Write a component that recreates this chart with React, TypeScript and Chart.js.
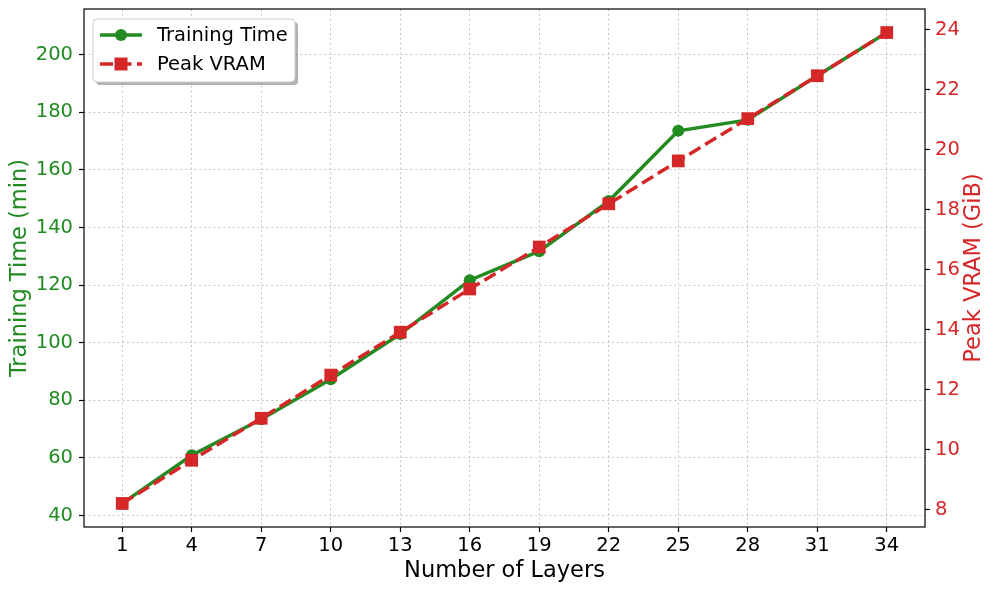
import React, { useEffect, useRef } from 'react';
import { Chart, registerables } from 'chart.js';

Chart.register(...registerables);

const layers = [1, 4, 7, 10, 13, 16, 19, 22, 25, 28, 31, 34];
const trainingTime = [44.2, 60.9, 73.4, 87.3, 103.0, 121.7, 131.8, 149.2, 173.6, 177.4, 192.7, 207.7];
const peakVram = [8.2, 9.64, 11.04, 12.48, 13.91, 15.35, 16.75, 18.19, 19.62, 21.03, 22.46, 23.9];
const leftTicks = [40, 60, 80, 100, 120, 140, 160, 180, 200];
const rightTicks = [8, 10, 12, 14, 16, 18, 20, 22, 24];

const GREEN = '#228B22';
const RED = '#d62728';
const FONT = "'DejaVu Sans', sans-serif";
const TICK_SIZE = 19.5;
const TITLE_SIZE = 22.5;

function roundRect(ctx: CanvasRenderingContext2D, x: number, y: number, w: number, h: number, r: number) {
  ctx.beginPath();
  ctx.moveTo(x + r, y);
  ctx.lineTo(x + w - r, y);
  ctx.quadraticCurveTo(x + w, y, x + w, y + r);
  ctx.lineTo(x + w, y + h - r);
  ctx.quadraticCurveTo(x + w, y + h, x + w - r, y + h);
  ctx.lineTo(x + r, y + h);
  ctx.quadraticCurveTo(x, y + h, x, y + h - r);
  ctx.lineTo(x, y + r);
  ctx.quadraticCurveTo(x, y, x + r, y);
  ctx.closePath();
}

const framePlugin = {
  id: 'frame',
  afterDraw(chart: any) {
    const ctx = chart.ctx as CanvasRenderingContext2D;
    const { left, right, top, bottom } = chart.chartArea;
    ctx.save();
    ctx.strokeStyle = '#000';
    ctx.lineWidth = 1.2;
    ctx.strokeRect(left, top, right - left, bottom - top);

    // right axis title (reads bottom-to-top as in the reference)
    ctx.translate(974, (top + bottom) / 2);
    ctx.rotate(-Math.PI / 2);
    ctx.fillStyle = RED;
    ctx.font = `${TITLE_SIZE}px ${FONT}`;
    ctx.textAlign = 'center';
    ctx.textBaseline = 'middle';
    ctx.fillText('Peak VRAM (GiB)', 0, 0);
    ctx.restore();

    // legend
    const bx = left + 9, by = top + 10, bw = 202, bh = 63;
    ctx.save();
    ctx.fillStyle = 'rgba(0,0,0,0.3)';
    roundRect(ctx, bx + 3, by + 3, bw, bh, 4);
    ctx.fill();
    ctx.fillStyle = '#ffffff';
    roundRect(ctx, bx, by, bw, bh, 4);
    ctx.fill();
    ctx.strokeStyle = '#cccccc';
    ctx.lineWidth = 1;
    ctx.stroke();

    const rows = [by + 16, by + 45];
    chart.data.datasets.forEach((ds: any, i: number) => {
      const ry = rows[i];
      ctx.strokeStyle = ds.borderColor;
      ctx.lineWidth = 3.5;
      ctx.setLineDash(ds.borderDash || []);
      ctx.beginPath();
      ctx.moveTo(bx + 7, ry);
      ctx.lineTo(bx + 49, ry);
      ctx.stroke();
      ctx.setLineDash([]);
      ctx.fillStyle = ds.backgroundColor;
      if (ds.pointStyle === 'rect') {
        ctx.fillRect(bx + 28 - 6.5, ry - 6.5, 13, 13);
      } else {
        ctx.beginPath();
        ctx.arc(bx + 28, ry, 6, 0, Math.PI * 2);
        ctx.fill();
      }
      ctx.fillStyle = '#000';
      ctx.font = `${TICK_SIZE}px ${FONT}`;
      ctx.textBaseline = 'middle';
      ctx.textAlign = 'left';
      ctx.fillText(ds.label, bx + 64, ry + 1);
    });
    ctx.restore();
  },
};

export default function App() {
  const ref = useRef<HTMLCanvasElement>(null);

  useEffect(() => {
    if (!ref.current) return;
    const gridCommon = {
      color: 'rgba(160,160,160,0.6)',
      lineWidth: 1,
      tickBorderDash: [],
      tickColor: '#000',
      tickWidth: 1.2,
      tickLength: 5,
    };
    const borderCommon = { display: false, dash: [2, 2.8] };
    const noPadV = (s: any) => { s.paddingTop = 0; s.paddingBottom = 0; };
    const chart = new Chart(ref.current, {
      type: 'line',
      data: {
        datasets: [
          {
            label: 'Training Time',
            data: layers.map((x, i) => ({ x, y: trainingTime[i] })),
            borderColor: GREEN,
            backgroundColor: GREEN,
            borderWidth: 3.5,
            pointStyle: 'circle',
            pointRadius: 6,
            pointBorderWidth: 0,
            yAxisID: 'y',
            order: 1,
          },
          {
            label: 'Peak VRAM',
            data: layers.map((x, i) => ({ x, y: peakVram[i] })),
            borderColor: RED,
            backgroundColor: RED,
            borderWidth: 3.5,
            borderDash: [13, 5.5],
            pointStyle: 'rect',
            pointRadius: 9,
            pointBorderWidth: 0,
            yAxisID: 'y1',
            order: 0,
          },
        ],
      },
      options: {
        animation: false,
        responsive: false,
        events: [],
        layout: { padding: { top: 9, left: 0, right: 0, bottom: 0 } },
        plugins: { legend: { display: false }, tooltip: { enabled: false } },
        scales: {
          x: {
            type: 'linear',
            min: -0.65,
            max: 35.65,
            afterBuildTicks: (s: any) => { s.ticks = layers.map((v) => ({ value: v })); },
            afterFit: (s: any) => { s.height = 66; s.paddingLeft = 0; s.paddingRight = 0; },
            grid: { ...gridCommon },
            border: { ...borderCommon },
            ticks: {
              color: '#000',
              font: { family: FONT, size: TICK_SIZE },
              padding: 2,
              maxRotation: 0,
              autoSkip: false,
              callback: (v: any) => String(v),
            },
            title: {
              display: true,
              text: 'Number of Layers',
              color: '#000',
              font: { family: FONT, size: TITLE_SIZE },
              padding: { top: 0, bottom: 8.5 },
            },
          },
          y: {
            type: 'linear',
            position: 'left',
            min: 36.0,
            max: 215.9,
            afterBuildTicks: (s: any) => { s.ticks = leftTicks.map((v) => ({ value: v })); },
            afterFit: (s: any) => { s.width = 84; noPadV(s); },
            grid: { ...gridCommon },
            border: { ...borderCommon },
            ticks: {
              color: GREEN,
              font: { family: FONT, size: TICK_SIZE },
              padding: 6,
              callback: (v: any) => String(v),
            },
            title: {
              display: true,
              text: 'Training Time (min)',
              color: GREEN,
              font: { family: FONT, size: TITLE_SIZE },
              padding: { top: 6.5, bottom: 0 },
            },
          },
          y1: {
            type: 'linear',
            position: 'right',
            min: 7.415,
            max: 24.685,
            afterBuildTicks: (s: any) => { s.ticks = rightTicks.map((v) => ({ value: v })); },
            afterFit: (s: any) => { s.width = 72; noPadV(s); },
            grid: { ...gridCommon, drawOnChartArea: false },
            border: { ...borderCommon },
            ticks: {
              color: RED,
              font: { family: FONT, size: TICK_SIZE },
              padding: 5,
              callback: (v: any) => String(v),
            },
            title: { display: false },
          },
        },
      },
      plugins: [framePlugin],
    } as any);
    return () => chart.destroy();
  }, []);

  return (
    <div style={{ position: 'absolute', left: 0, top: 0, width: 997, height: 593, background: '#fff' }}>
      <canvas ref={ref} width={997} height={593} style={{ width: 997, height: 593, display: 'block' }} />
    </div>
  );
}
